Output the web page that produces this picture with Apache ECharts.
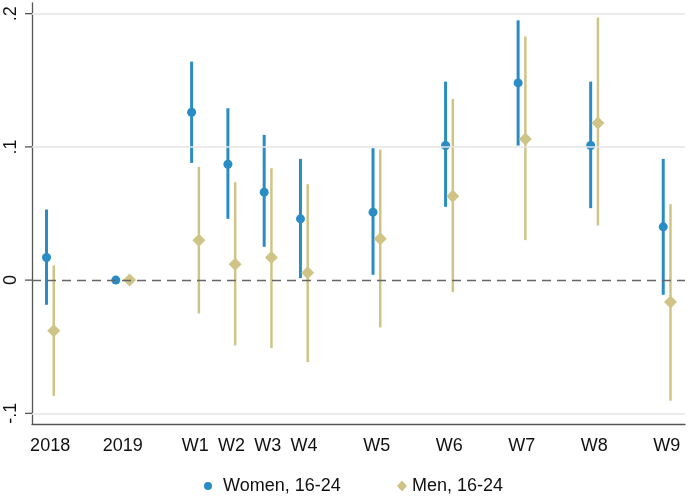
<!DOCTYPE html>
<html>
<head>
<meta charset="utf-8">
<script src="https://cdn.jsdelivr.net/npm/echarts@6/dist/echarts.min.js"></script>
<style>html,body{margin:0;padding:0;background:#fff}#c{width:688px;height:497px}</style>
</head>
<body>
<div id="c"></div>
<script>
// Categories and their positions on the time axis (in half-steps)
const categories = ['2018', '2019', 'W1', 'W2', 'W3', 'W4', 'W5', 'W6', 'W7', 'W8', 'W9'];
const catPos = [0, 1, 2, 2.5, 3, 3.5, 4.5, 5.5, 6.5, 7.5, 8.5];
// small horizontal shift of each series around the category position (data units)
const womenShift = [-0.05, -0.095, -0.05, -0.05, -0.05, -0.05, -0.05, -0.05, -0.05, -0.05, -0.05];
const menShift = [0.05, 0.095, 0.05, 0.05, 0.05, 0.05, 0.05, 0.05, 0.05, 0.05, 0.05];

// Women, 16-24: point estimate and 95% CI
const womenEst = [0.017, 0.000, 0.126, 0.087, 0.066, 0.046, 0.051, 0.101, 0.148, 0.101, 0.040];
const womenLow = [-0.0185, 0.000, 0.088, 0.046, 0.025, 0.0015, 0.004, 0.055, 0.101, 0.054, -0.011];
const womenHigh = [0.053, 0.000, 0.164, 0.129, 0.109, 0.091, 0.099, 0.149, 0.195, 0.149, 0.091];

// Men, 16-24
const menEst = [-0.038, 0.000, 0.030, 0.012, 0.017, 0.0055, 0.031, 0.063, 0.106, 0.118, -0.0165];
const menLow = [-0.087, 0.000, -0.025, -0.049, -0.051, -0.0615, -0.0355, -0.009, 0.030, 0.041, -0.0905];
const menHigh = [0.011, 0.000, 0.085, 0.0735, 0.084, 0.072, 0.098, 0.136, 0.183, 0.197, 0.057];

const yTicks = [-0.1, 0, 0.1, 0.2];
const yTickLabels = ['-.1', '0', '.1', '.2'];

const BLUE = '#2a8cc4';
const KHAKI = '#cfc486';
const AXIS = '#555';

function errData(shift, low, high) {
  return catPos.map((p, i) => [p + shift[i], low[i], high[i]]);
}
function ptData(shift, est) {
  return catPos.map((p, i) => [p + shift[i], est[i]]);
}
function errRender(color, width) {
  return function (params, api) {
    const a = api.coord([api.value(0), api.value(1)]);
    const b = api.coord([api.value(0), api.value(2)]);
    return {
      type: 'line',
      shape: { x1: a[0], y1: a[1], x2: b[0], y2: b[1] },
      style: { stroke: color, lineWidth: width }
    };
  };
}

const chart = echarts.init(document.getElementById('c'), null, { renderer: 'canvas' });
const font = 'Liberation Sans, Arial, Helvetica, sans-serif';
const X_MIN = -0.25;

chart.setOption({
  animation: false,
  backgroundColor: '#fff',
  grid: { left: 32, right: 3, top: 3, bottom: 73, containLabel: false },
  xAxis: {
    type: 'value',
    min: X_MIN, max: 8.75,
    axisLine: { onZero: false, lineStyle: { color: AXIS, width: 1.3 } },
    axisTick: { show: false },
    splitLine: { show: false },
    axisLabel: {
      customValues: catPos,
      formatter: function (v) {
        const i = catPos.findIndex(p => Math.abs(p - v) < 1e-6);
        return i >= 0 ? categories[i] : '';
      },
      color: '#111', fontSize: 18, fontFamily: font, margin: 13
    }
  },
  yAxis: {
    type: 'value',
    min: -0.108, max: 0.208,
    axisLine: { show: true, onZero: false, lineStyle: { color: AXIS, width: 1.3 } },
    axisTick: { show: false },
    splitLine: { show: false },
    axisLabel: {
      customValues: yTicks,
      rotate: 90,
      formatter: function (v) {
        const i = yTicks.findIndex(t => Math.abs(t - v) < 1e-6);
        return i >= 0 ? yTickLabels[i] : '';
      },
      color: '#111', fontSize: 18, fontFamily: font, margin: 12
    }
  },
  legend: [
    {
      data: [{ name: 'Women, 16-24', icon: 'circle' }],
      left: 199, top: 472,
      itemWidth: 20, itemHeight: 8, itemGap: 0,
      textStyle: { color: '#111', fontSize: 18, fontFamily: font }
    },
    {
      data: [{ name: 'Men, 16-24', icon: 'diamond' }],
      left: 392, top: 472,
      itemWidth: 10, itemHeight: 11, itemGap: 0,
      textStyle: { color: '#111', fontSize: 18, fontFamily: font }
    }
  ],
  series: [
    {
      type: 'line', data: [], silent: true,
      markLine: {
        symbol: 'none', silent: true, label: { show: false },
        data: [
          { yAxis: 0.2, lineStyle: { color: '#e4e4e4', width: 1.5, type: 'solid' } },
          { yAxis: 0.1, lineStyle: { color: '#e4e4e4', width: 1.5, type: 'solid' } },
          { yAxis: -0.1, lineStyle: { color: '#e4e4e4', width: 1.5, type: 'solid' } },
          { yAxis: 0, lineStyle: { color: '#666', width: 1.4, type: [9, 6] } }
        ]
      }
    },
    {
      // y-axis tick marks (outside the plot, left of the axis line)
      type: 'custom', silent: true, clip: false, z: 5,
      renderItem: function (params, api) {
        const p = api.coord([X_MIN, api.value(0)]);
        return {
          type: 'line',
          shape: { x1: p[0] - 7, y1: p[1], x2: p[0], y2: p[1] },
          style: { stroke: AXIS, lineWidth: 1.3 }
        };
      },
      encode: { y: 0 },
      data: yTicks.map(t => [t])
    },
    {
      name: 'Women, 16-24 CI', type: 'custom', z: 3,
      renderItem: errRender(BLUE, 3),
      data: errData(womenShift, womenLow, womenHigh)
    },
    {
      name: 'Men, 16-24 CI', type: 'custom', z: 3,
      renderItem: errRender(KHAKI, 2.5),
      data: errData(menShift, menLow, menHigh)
    },
    {
      name: 'Women, 16-24', type: 'scatter', z: 4,
      symbol: 'circle', symbolSize: 9,
      itemStyle: { color: BLUE, opacity: 1 },
      data: ptData(womenShift, womenEst)
    },
    {
      name: 'Men, 16-24', type: 'scatter', z: 4,
      symbol: 'diamond', symbolSize: 13,
      itemStyle: { color: KHAKI, opacity: 1 },
      data: ptData(menShift, menEst)
    }
  ]
});
</script>
</body>
</html>
